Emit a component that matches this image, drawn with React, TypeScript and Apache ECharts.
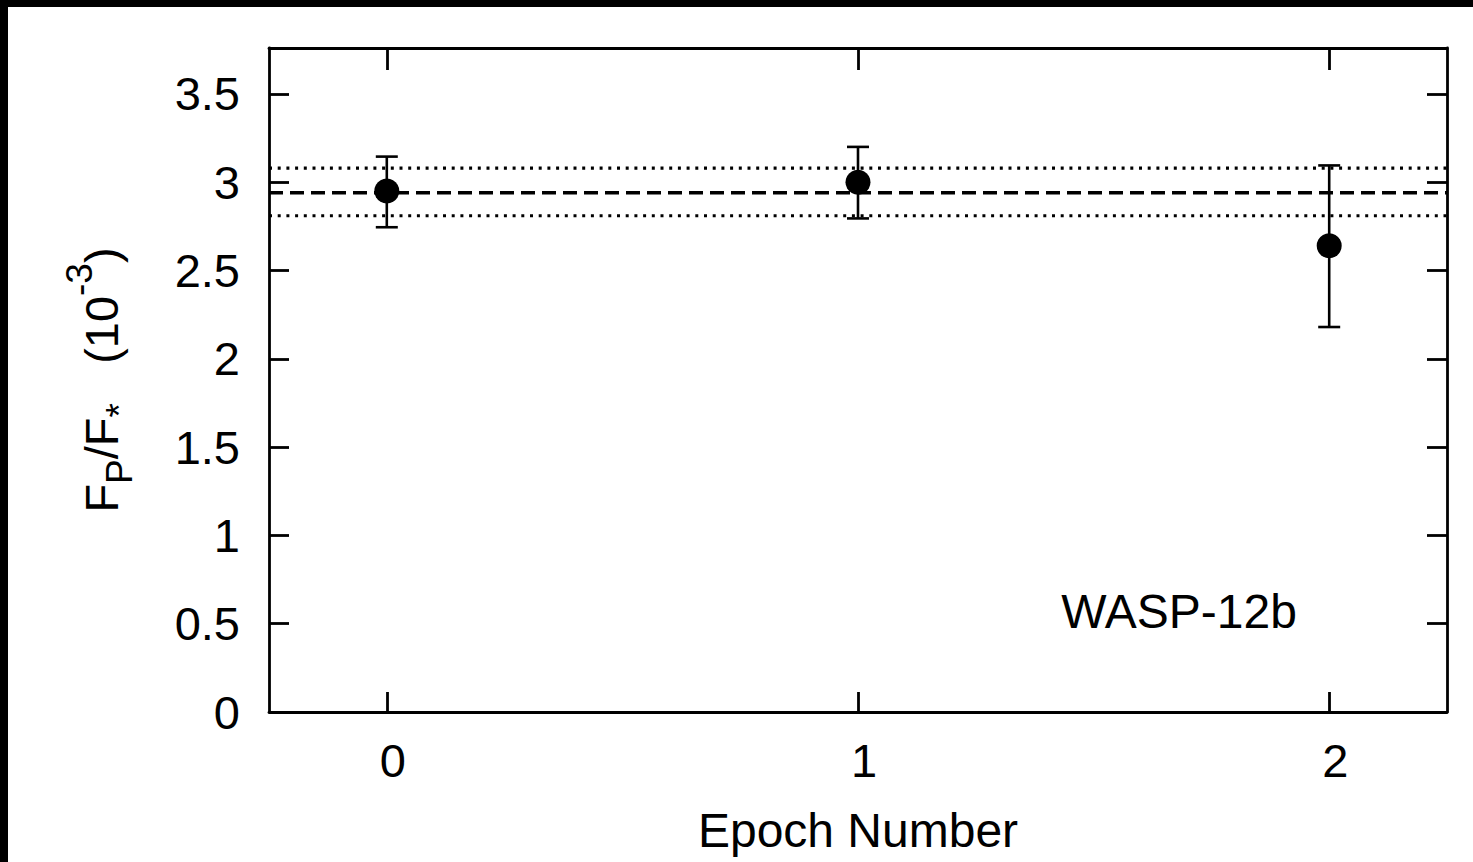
import React, { useEffect, useRef } from "react";
import * as echarts from "echarts";

// ---- data ----
const epochs = [0, 1, 2];
const fluxRatio = [2.95, 3.0, 2.64];
const errLow = [2.745, 2.795, 2.18];
const errHigh = [3.145, 3.2, 3.095];
const meanValue = 2.94;
const meanLow = 2.81;
const meanHigh = 3.08;
const xTicks = [0, 1, 2];
const yTicks = [0, 0.5, 1, 1.5, 2, 2.5, 3, 3.5];
const xRange = [-0.25, 2.25];
const yRange = [0, 3.76];
const xTitle = "Epoch Number";
const planetLabel = "WASP-12b";

const FONT = "'Liberation Sans', Arial, Helvetica, sans-serif";

export default function App() {
  const ref = useRef<HTMLDivElement>(null);

  useEffect(() => {
    if (!ref.current) return;
    const chart = echarts.init(ref.current, null, { renderer: "svg" });

    const lineStyle = { color: "#000", width: 2.8 };
    const baseAxis = {
      type: "value" as const,
      axisLine: { show: true, onZero: false, lineStyle },
      splitLine: { show: false },
    };

    const option: any = {
      animation: false,
      backgroundColor: "#fff",
      grid: { left: 261, top: 41, width: 1178, height: 664, containLabel: false },
      xAxis: [
        {
          ...baseAxis,
          position: "bottom",
          min: xRange[0],
          max: xRange[1],
          axisTick: { show: true, inside: true, length: 20, lineStyle, customValues: xTicks },
          axisLabel: {
            show: true,
            customValues: xTicks,
            fontSize: 47,
            fontFamily: FONT,
            color: "#000",
            margin: 25,
            padding: [0, 0, 0, 12],
          },
          name: xTitle,
          nameLocation: "middle",
          nameGap: 94,
          nameTextStyle: { fontSize: 48, fontFamily: FONT, color: "#000" },
        },
        {
          ...baseAxis,
          position: "top",
          min: xRange[0],
          max: xRange[1],
          axisTick: { show: true, inside: true, length: 22, lineStyle, customValues: xTicks },
          axisLabel: { show: false },
        },
      ],
      yAxis: [
        {
          ...baseAxis,
          position: "left",
          min: yRange[0],
          max: yRange[1],
          axisTick: { show: true, inside: true, length: 20, lineStyle, customValues: yTicks },
          axisLabel: {
            show: true,
            customValues: yTicks,
            fontSize: 47,
            fontFamily: FONT,
            color: "#000",
            margin: 29,
          },
        },
        {
          ...baseAxis,
          position: "right",
          min: yRange[0],
          max: yRange[1],
          axisTick: { show: true, inside: true, length: 20, lineStyle, customValues: yTicks },
          axisLabel: { show: false },
        },
      ],
      series: [
        {
          name: "mean",
          type: "line",
          data: [
            [xRange[0], meanValue],
            [xRange[1], meanValue],
          ],
          symbol: "none",
          lineStyle: { color: "#000", width: 3.5, opacity: 1, type: [14, 7] },
          silent: true,
          z: 1,
        },
        {
          name: "mean upper",
          type: "line",
          data: [
            [xRange[0], meanHigh],
            [xRange[1], meanHigh],
          ],
          symbol: "none",
          lineStyle: { color: "#000", width: 3.2, opacity: 1, type: [3, 5.7] },
          silent: true,
          z: 1,
        },
        {
          name: "mean lower",
          type: "line",
          data: [
            [xRange[0], meanLow],
            [xRange[1], meanLow],
          ],
          symbol: "none",
          lineStyle: { color: "#000", width: 3.2, opacity: 1, type: [3, 5.7] },
          silent: true,
          z: 1,
        },
        {
          name: "error",
          type: "custom",
          data: epochs.map((e, i) => [e, errLow[i], errHigh[i]]),
          encode: { x: 0, y: [1, 2] },
          renderItem: (params: any, api: any) => {
            const x = api.value(0);
            const lo = api.coord([x, api.value(1)]);
            const hi = api.coord([x, api.value(2)]);
            const half = 11;
            const style = { stroke: "#000", lineWidth: 2.6 };
            return {
              type: "group",
              children: [
                { type: "line", shape: { x1: lo[0], y1: lo[1], x2: hi[0], y2: hi[1] }, style },
                { type: "line", shape: { x1: lo[0] - half, y1: lo[1], x2: lo[0] + half, y2: lo[1] }, style },
                { type: "line", shape: { x1: hi[0] - half, y1: hi[1], x2: hi[0] + half, y2: hi[1] }, style },
              ],
            };
          },
          z: 2,
        },
        {
          name: "Fp/F*",
          type: "scatter",
          data: epochs.map((e, i) => [e, fluxRatio[i]]),
          symbol: "circle",
          symbolSize: 25,
          itemStyle: { color: "#000", opacity: 1 },
          z: 3,
        },
      ],
      graphic: [
        {
          type: "text",
          x: 1171,
          y: 604,
          style: {
            text: planetLabel,
            align: "center",
            verticalAlign: "middle",
            fontSize: 48,
            fontFamily: FONT,
            fill: "#000",
          },
        },
        {
          type: "text",
          x: 93.7,
          y: 373,
          rotation: Math.PI / 2,
          style: {
            text: "{m|F}{s|P}{m|/F}{s|*}{m|   (10}{u|-3}{m|)}",
            align: "center",
            verticalAlign: "middle",
            fill: "#000",
            fontFamily: FONT,
            fontSize: 47,
            rich: {
              m: { fontSize: 47, fontFamily: FONT, fill: "#000" },
              s: { fontSize: 37, fontFamily: FONT, fill: "#000", padding: [35, 0, 0, 0] },
              u: { fontSize: 37, fontFamily: FONT, fill: "#000", padding: [0, 0, 45, 0] },
            },
          },
        },
      ],
    };

    chart.setOption(option);
    return () => chart.dispose();
  }, []);

  return (
    <div style={{ position: "fixed", left: 0, top: 0, width: 1473, height: 862, background: "#000" }}>
      <div
        ref={ref}
        style={{ position: "absolute", left: 8, top: 7, width: 1465, height: 855, background: "#fff" }}
      />
    </div>
  );
}
